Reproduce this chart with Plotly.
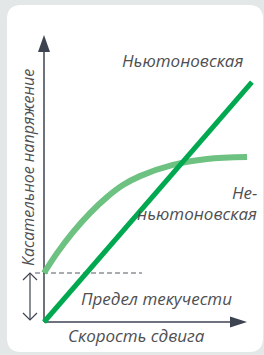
import plotly.graph_objects as go

# ---- data (shear rate / shear stress, arbitrary units) ----
shear_rate_newton = [0.0, 9.9]
stress_newton = [0.0, 8.57]
shear_rate_nonnewton = [0.0, 0.62, 1.38, 2.19, 3.0, 3.76, 4.57, 6.14, 7.76, 9.67]
stress_nonnewton = [1.75, 2.46, 3.21, 3.89, 4.46, 4.89, 5.21, 5.61, 5.82, 5.89]
yield_stress = 1.75

label_newton = "Ньютоновская"
label_nonnewton_1 = "Не-"
label_nonnewton_2 = "ньютоновская"
label_yield = "Предел текучести"
label_x = "Скорость сдвига"
label_y = "Касательное напряжение"

# ---- layout helpers (pixel -> data for decorations) ----
W, H = 264, 355
OX, OY = 44, 322
SX, SY = 21.0, 28.0


def X(px):
    return (px - OX) / SX


def Y(py):
    return (OY - py) / SY


AXIS = "#3d4350"
TEXT = "#4f4f52"
GREEN_DARK = "#00a84f"
GREEN_LIGHT = "#6dc181"
FONT = "Open Sans"

fig = go.Figure()
fig.add_trace(go.Scatter(
    x=shear_rate_nonnewton, y=stress_nonnewton, mode="lines",
    line=dict(color=GREEN_LIGHT, width=6, shape="spline", smoothing=1.0),
    hoverinfo="skip", showlegend=False))
fig.add_trace(go.Scatter(
    x=shear_rate_newton, y=stress_newton, mode="lines",
    line=dict(color=GREEN_DARK, width=5),
    hoverinfo="skip", showlegend=False))

# card with rounded corners (paper coords)
x0, x1, y0, y1, r = 7 / W, 263 / W, 1 - 352 / H, 1 - 5 / H, 14
rx, ry = r / W, r / H
card = (f"M{x0+rx},{y1} L{x1-rx},{y1} Q{x1},{y1} {x1},{y1-ry} "
        f"L{x1},{y0+ry} Q{x1},{y0} {x1-rx},{y0} L{x0+rx},{y0} "
        f"Q{x0},{y0} {x0},{y0+ry} L{x0},{y1-ry} Q{x0},{y1} {x0+rx},{y1} Z")
shapes = [dict(type="path", path=card, xref="paper", yref="paper",
               fillcolor="white", line=dict(width=0), layer="below")]

# dashed yield line
shapes.append(dict(type="line", x0=X(35), x1=X(142), y0=yield_stress, y1=yield_stress,
                   line=dict(color="#555a63", width=1.2, dash="5px,3px"), layer="below"))
# axes
shapes.append(dict(type="line", x0=0, y0=0, x1=0, y1=Y(50),
                   line=dict(color=AXIS, width=1.5), layer="below"))
shapes.append(dict(type="line", x0=0, y0=0, x1=X(232), y1=0,
                   line=dict(color=AXIS, width=1.5), layer="below"))
# arrowheads
shapes.append(dict(type="path",
                   path=f"M{X(38)},{Y(52)} L{X(44)},{Y(35)} L{X(50)},{Y(52)} Z",
                   fillcolor=AXIS, line=dict(width=0)))
shapes.append(dict(type="path",
                   path=f"M{X(230)},{Y(316.5)} L{X(247)},{Y(322)} L{X(230)},{Y(327.5)} Z",
                   fillcolor=AXIS, line=dict(width=0)))
# double arrow for yield stress
shapes.append(dict(type="line", x0=X(30), x1=X(30), y0=yield_stress, y1=Y(320),
                   line=dict(color=AXIS, width=1.2)))
shapes.append(dict(type="path",
                   path=f"M{X(23)},{Y(280)} L{X(30)},{Y(273)} L{X(37)},{Y(280)}",
                   line=dict(color=AXIS, width=1.2)))
shapes.append(dict(type="path",
                   path=f"M{X(23)},{Y(313)} L{X(30)},{Y(320)} L{X(37)},{Y(313)}",
                   line=dict(color=AXIS, width=1.2)))

fnt = dict(family=FONT, size=17, color=TEXT, style="italic")
ann = [
    dict(x=X(245), y=Y(60), text=label_newton, xanchor="right", yanchor="middle"),
    dict(x=X(259), y=Y(192), text=label_nonnewton_1, xanchor="right", yanchor="middle"),
    dict(x=X(259), y=Y(213), text=label_nonnewton_2, xanchor="right", yanchor="middle"),
    dict(x=X(156), y=Y(298), text=label_yield, xanchor="center", yanchor="middle"),
    dict(x=X(136), y=Y(335), text=label_x, xanchor="center", yanchor="middle"),
    dict(x=X(28), y=Y(168), text=label_y, xanchor="center", yanchor="middle",
         textangle=-90, font=dict(family=FONT, size=16, color=TEXT, style="italic")),
]
for a in ann:
    a.update(xref="x", yref="y", showarrow=False)
    a.setdefault("font", fnt)

fig.update_layout(
    width=W, height=H, margin=dict(l=0, r=0, t=0, b=0),
    paper_bgcolor="#e4e7e7", plot_bgcolor="rgba(0,0,0,0)",
    xaxis=dict(range=[X(0), X(W)], visible=False, fixedrange=True),
    yaxis=dict(range=[Y(H), Y(0)], visible=False, fixedrange=True),
    shapes=shapes, annotations=ann, showlegend=False,
)
fig.write_html("out.html", config={"displayModeBar": False},
               post_script="document.body.style.margin='0';document.body.style.overflow='hidden';")
